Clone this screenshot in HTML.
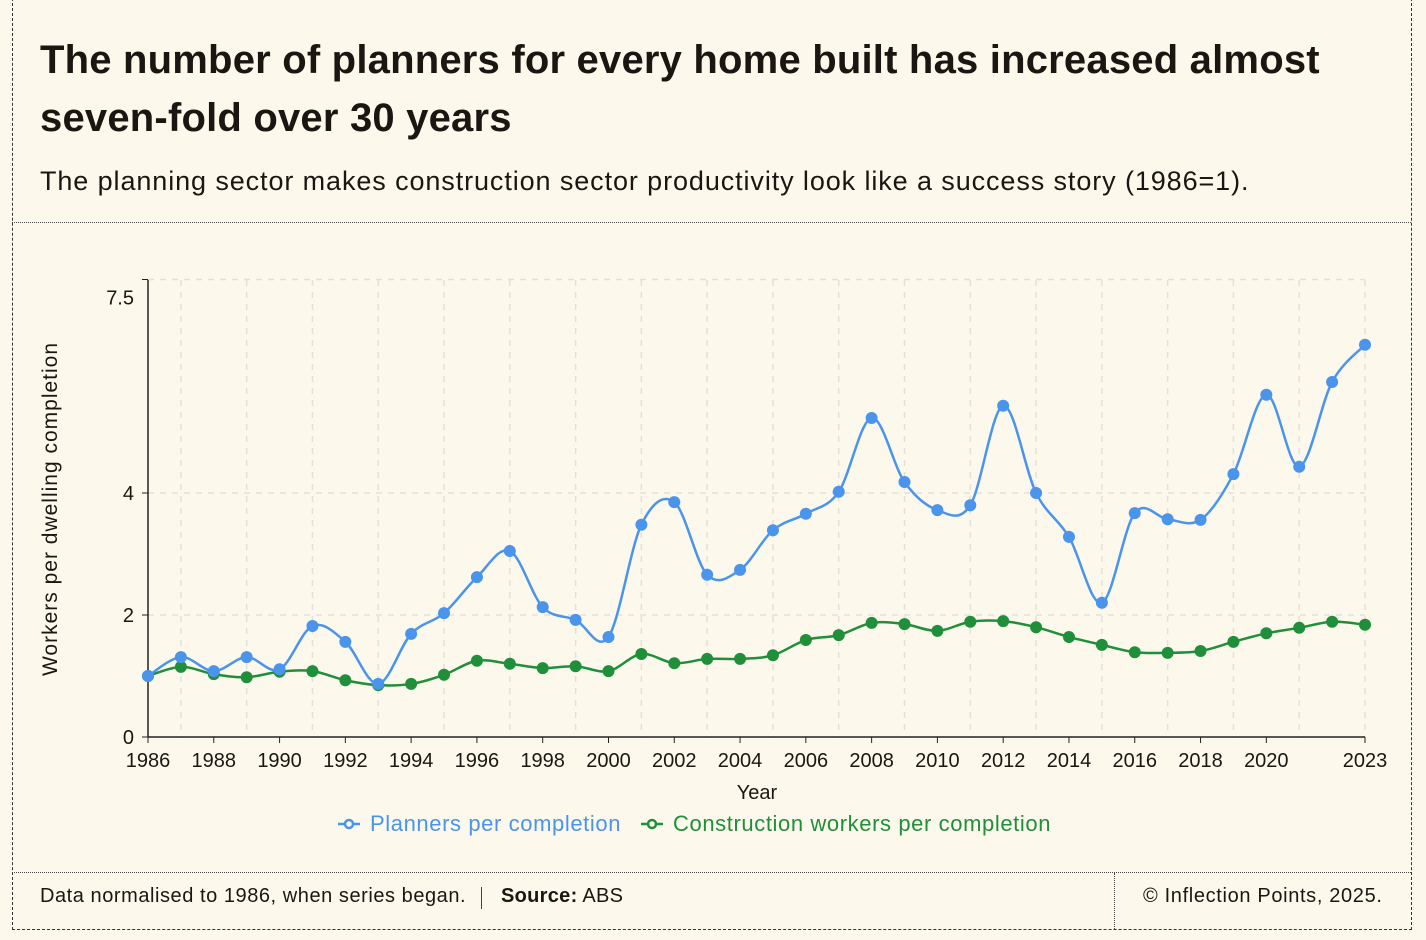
<!DOCTYPE html>
<html><head><meta charset="utf-8"><style>
body{margin:0;background:#fdf8ec;width:1426px;height:940px;overflow:hidden;font-family:"Liberation Sans",sans-serif;color:#1a1712;position:relative}
.box{position:absolute;left:12px;top:-2px;width:1398px;height:930px;border:1px dashed #333;}
.hdiv{position:absolute;left:12px;width:1399px;top:222px;border-top:1px dotted #444}
.fdiv{position:absolute;left:12px;width:1399px;top:872px;border-top:1px dotted #444}
.vdiv{position:absolute;left:1114px;top:873px;height:56px;border-left:1px dotted #444}
h1{position:absolute;left:40px;top:31px;margin:0;font-size:40px;line-height:58px;font-weight:bold;letter-spacing:0.2px;white-space:nowrap}
.sub{position:absolute;left:40px;top:166px;font-size:27px;letter-spacing:0.9px;white-space:nowrap}
.foot{position:absolute;top:885px;font-size:20px;white-space:nowrap}
</style></head><body>
<div class="box"></div>
<div class="hdiv"></div>
<div class="fdiv"></div>
<div class="vdiv"></div>
<h1>The number of planners for every home built has increased almost<br>seven-fold over 30 years</h1>
<div class="sub">The planning sector makes construction sector productivity look like a success story (1986=1).</div>
<div class="foot" style="left:40px;letter-spacing:0.55px">Data normalised to 1986, when series began.</div>
<div style="position:absolute;left:481px;top:887px;height:22px;border-left:1px solid #444"></div>
<div class="foot" style="left:501px;letter-spacing:0.3px"><b>Source:</b> ABS</div>
<div class="foot" style="left:1143px;letter-spacing:0.65px">© Inflection Points, 2025.</div>
<svg id="chart" width="1426" height="940" style="position:absolute;left:0;top:0"></svg>
<script>
const years=[];for(let y=1986;y<=2023;y++)years.push(y);
const planners=[1.0,1.31,1.08,1.31,1.11,1.82,1.56,0.87,1.69,2.03,2.62,3.05,2.13,1.92,1.64,3.48,3.85,2.66,2.74,3.39,3.66,4.02,5.23,4.18,3.72,3.80,5.43,4.0,3.28,2.20,3.67,3.57,3.56,4.31,5.61,4.43,5.82,6.43];
const construction=[1.0,1.15,1.03,0.98,1.07,1.08,0.93,0.85,0.87,1.02,1.25,1.2,1.13,1.16,1.08,1.36,1.21,1.28,1.28,1.34,1.59,1.67,1.87,1.85,1.74,1.89,1.9,1.8,1.64,1.51,1.39,1.38,1.41,1.56,1.7,1.79,1.89,1.84];
const yTicks=[0,2,4,7.5];
const xTicks=[1986,1988,1990,1992,1994,1996,1998,2000,2002,2004,2006,2008,2010,2012,2014,2016,2018,2020,2023];
const NS='http://www.w3.org/2000/svg';
const svg=document.getElementById('chart');
const X=v=>148+(v-1986)*(1365-148)/37;
const Y=v=>737-v*61;
function mk(t,a,p){const e=document.createElementNS(NS,t);for(const k in a)e.setAttribute(k,a[k]);(p||svg).appendChild(e);return e;}
for(let y=1987;y<=2023;y+=2){const g=mk('line',{x1:X(y),x2:X(y),y1:280,y2:737,stroke:'#e3e1dc','stroke-width':1.5,'stroke-dasharray':'6,6'});

}
yTicks.forEach(v=>{if(v===0)return;const g=mk('line',{x1:148,x2:1365,y1:Y(v),y2:Y(v),stroke:'#e3e1dc','stroke-width':1.5,'stroke-dasharray':'6,6'});

});
const ya=mk('line',{x1:148,x2:148,y1:280,y2:737,stroke:'#222','stroke-width':1.5});


const xa=mk('line',{x1:148,x2:1365,y1:737,y2:737,stroke:'#222','stroke-width':1.5});


yTicks.forEach(v=>{const t=mk('line',{x1:142,x2:148,y1:Y(v),y2:Y(v),stroke:'#222'});


const l=mk('text',{x:134,y:Y(v)+(v===7.5?25:7),'text-anchor':'end','font-size':20,fill:'#1a1712'});


l.textContent=v;});
xTicks.forEach(v=>{const t=mk('line',{x1:X(v),x2:X(v),y1:737,y2:743,stroke:'#222'});


const l=mk('text',{x:X(v),y:767,'text-anchor':'middle','font-size':20,fill:'#1a1712'});


l.textContent=v;});
const xt=mk('text',{x:757,y:799,'text-anchor':'middle','font-size':20,fill:'#1a1712'});


xt.textContent='Year';
const yt=mk('text',{x:0,y:0,transform:'translate(57,509) rotate(-90)','text-anchor':'middle','font-size':21,'letter-spacing':1,fill:'#1a1712'});


yt.textContent='Workers per dwelling completion';
function path(vals){const p=vals.map((v,i)=>[X(years[i]),Y(v)]);let d='M'+p[0];
for(let i=0;i<p.length-1;i++){const p0=p[i-1]||p[i],p1=p[i],p2=p[i+1],p3=p[i+2]||p2;
const c1=[p1[0]+(p2[0]-p0[0])/6,p1[1]+(p2[1]-p0[1])/6],c2=[p2[0]-(p3[0]-p1[0])/6,p2[1]-(p3[1]-p1[1])/6];
d+=' C'+c1+' '+c2+' '+p2;}return d;}
function series(vals,col,name){const l=mk('path',{d:path(vals),fill:'none',stroke:col,'stroke-width':2.5});


vals.forEach((v,i)=>{const c=mk('circle',{cx:X(years[i]),cy:Y(v),r:6,fill:col});

});}
series(construction,'#1f8f3a','construction');
series(planners,'#4a94ec','planners');
function leg(x,col,txt,name){const g=mk('g',{});


mk('line',{x1:x,x2:x+22,y1:824,y2:824,stroke:col,'stroke-width':2.5},g);
mk('circle',{cx:x+11,cy:824,r:4,fill:'#fdf8ec',stroke:col,'stroke-width':2.5},g);
const t=mk('text',{x:x+32,y:831,'font-size':22,'letter-spacing':0.6,fill:col},g);t.textContent=txt;}
leg(338,'#4a94ec','Planners per completion','legend-planners');
leg(641,'#1f8f3a','Construction workers per completion','legend-construction');
</script>
</body></html>
